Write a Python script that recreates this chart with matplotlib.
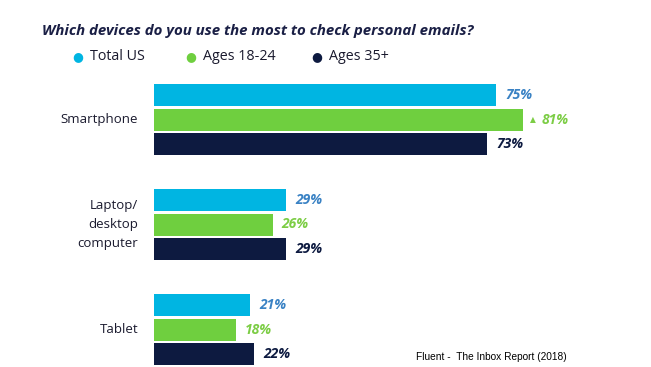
import matplotlib.pyplot as plt

categories = ["Smartphone", "Laptop/\ndesktop\ncomputer", "Tablet"]
series = ["Total US", "Ages 18-24", "Ages 35+"]
total_us = [75, 29, 21]
ages_18_24 = [81, 26, 18]
ages_35 = [73, 29, 22]

bar_colors = ["#00b5e2", "#6fcf3f", "#0d1a40"]
label_colors = ["#3a82c4", "#7ccd45", "#0d1a40"]
navy = "#1a1f45"

W, H = 651, 367
fig = plt.figure(figsize=(W / 100, H / 100), dpi=100)
fig.patch.set_facecolor("white")

# axes in pixel-like coords: x in percent, y in pixels from top
ax = fig.add_axes([154 / W, 0, 456 / W, 1])
ax.set_xlim(0, 100)
ax.set_ylim(H, 0)
ax.axis("off")

group_top = 95
group_gap = 105
bar_pitch = 24.5
bar_h = 22

for j, vals in enumerate([total_us, ages_18_24, ages_35]):
    ys = [group_top + group_gap * i + bar_pitch * j for i in range(len(categories))]
    ax.barh(ys, vals, height=bar_h, color=bar_colors[j], left=0)
    for y, v in zip(ys, vals):
        is_top = j == 1 and v == max(vals)
        ax.text(v + 2.0 + (1.9 if is_top else 0), y, f"{v}%",
                ha="left", va="center", fontsize=10, fontweight="bold",
                fontstyle="italic", color=label_colors[j], family="Open Sans")
        if is_top:
            ax.text(v + 1.4, y, "▲", ha="left", va="center", fontsize=5.5,
                    color=label_colors[j], family="DejaVu Sans")

for i, cat in enumerate(categories):
    y = group_top + group_gap * i + bar_pitch
    fig.text(138 / W, 1 - y / H, cat, ha="right", va="center", fontsize=9.5,
             color="#1a1a2e", family="Open Sans", linespacing=1.55)

fig.text(42 / W, 1 - 31 / H, "Which devices do you use the most to check personal emails?",
         ha="left", va="center", fontsize=10.8, fontweight="bold", fontstyle="italic",
         color=navy, family="Open Sans")

dot_x = [78, 191, 317]
for name, c, x in zip(series, bar_colors, dot_x):
    fig.text(x / W, 1 - 57 / H, "●", ha="center", va="center", fontsize=9,
             color=c, family="DejaVu Sans")
    fig.text((x + 12) / W, 1 - 57 / H, name, ha="left", va="center", fontsize=10.3,
             color="#1a1a2e", family="Open Sans")

fig.text(416 / W, 1 - 357 / H, "Fluent -  The Inbox Report (2018)", ha="left",
         va="center", fontsize=7.3, color="black", family="Liberation Sans")

fig.savefig("out.png", dpi=100)
